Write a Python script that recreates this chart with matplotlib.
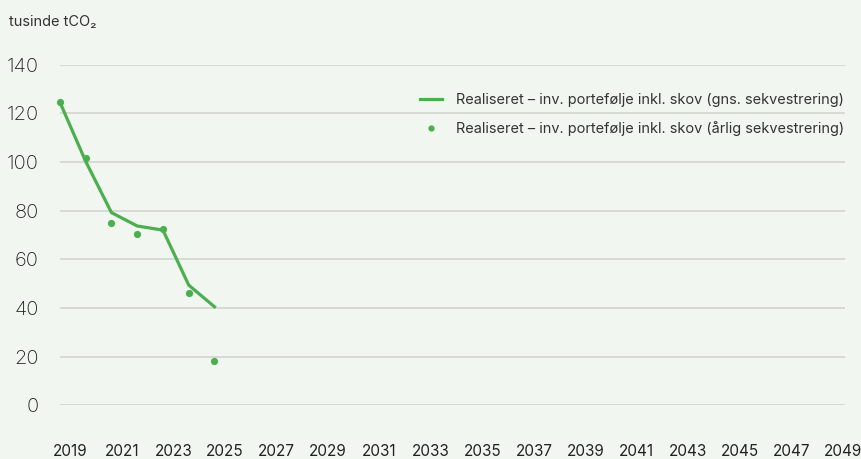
import matplotlib
matplotlib.use("Agg")
import matplotlib.pyplot as plt
from matplotlib.transforms import ScaledTranslation
from matplotlib.lines import Line2D

# Data
years_avg = [2019, 2020, 2021, 2022, 2023, 2024, 2025]
avg_seq = [124.5, 100.2, 79.2, 73.7, 72.0, 49.4, 40.5]
years_ann = [2019, 2020, 2021, 2022, 2023, 2024, 2025]
ann_seq = [124.5, 101.7, 75.1, 70.4, 72.3, 46.0, 18.2]
x_ticks = list(range(2019, 2050, 2))
y_ticks = [0, 20, 40, 60, 80, 100, 120, 140]
label_avg = "Realiseret – inv. portefølje inkl. skov (gns. sekvestrering)"
label_ann = "Realiseret – inv. portefølje inkl. skov (årlig sekvestrering)"
y_title = "tusinde tCO₂"

plt.rcParams['font.family'] = ['Inter', 'DejaVu Sans']

BG = '#F2F6F0'
GREEN = '#4CAF4F'
GRID = '#D3D6D1'
PX = 72 / 100  # points per pixel

fig = plt.figure(figsize=(8.61, 4.59), dpi=100, facecolor=BG)
ax = fig.add_axes([60/861, (459-405.3)/459, (845-60)/861, (405.3-64.7)/459])
ax.set_facecolor(BG)

ax.plot(years_avg, avg_seq, color=GREEN, lw=2.3, solid_joinstyle='miter', clip_on=False, zorder=3)
ax.plot(years_ann, ann_seq, 'o', color=GREEN, ms=5.2, mec='none', clip_on=False, zorder=4)

ax.set_xlim(2019, 2049.49)
ax.set_ylim(0, 140)
ax.set_yticks(y_ticks)
ax.set_xticks(x_ticks)
ax.set_xticklabels([str(t) for t in x_ticks])
ax.yaxis.grid(True, color=GRID, lw=1.3)
ax.set_axisbelow(True)
for s in ax.spines.values():
    s.set_visible(False)
ax.tick_params(axis='y', length=0, pad=21*PX, labelsize=14.5, labelcolor='#222222')
ax.tick_params(axis='x', length=0, pad=39*PX, labelsize=11, labelcolor='#222222')
for lab in ax.get_yticklabels():
    lab.set_fontweight('light')
for lab in ax.get_xticklabels():
    lab.set_verticalalignment('top')
    lab.set_transform(lab.get_transform() + ScaledTranslation(10.5/100, 0, fig.dpi_scale_trans))

fig.text(9/861, 1 - 22/459, y_title, fontsize=10.5, color='#333333', va='center', ha='left')

handles = [Line2D([], [], color=GREEN, lw=2.3),
           Line2D([], [], marker='o', ls='none', color=GREEN, ms=4.5, mec='none')]
leg = ax.legend(handles, [label_avg, label_ann], loc='upper left',
                bbox_to_anchor=(420/861, 1 - 93/459), bbox_transform=fig.transFigure,
                frameon=False, prop={'size': 10.45},
                handlelength=1.55, handletextpad=0.95,
                labelspacing=0.95, borderpad=0, borderaxespad=0, labelcolor='#333333')

fig.savefig('out.png', dpi=100, facecolor=BG)
